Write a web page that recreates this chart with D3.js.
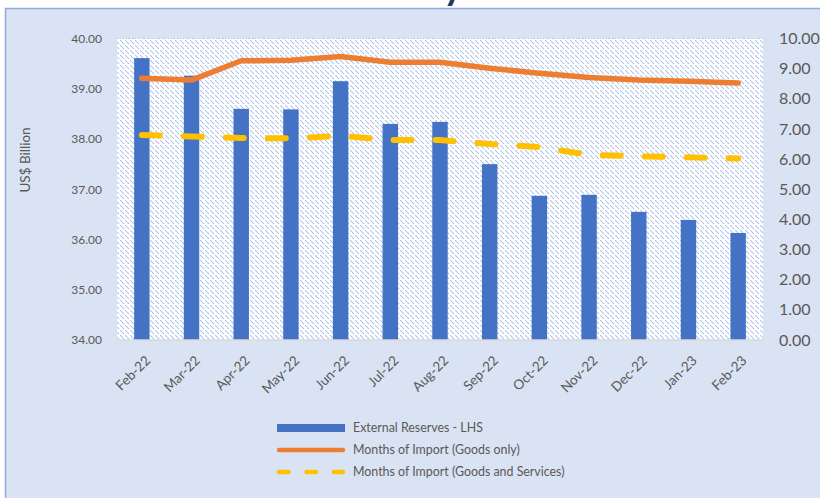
<!DOCTYPE html>
<html>
<head>
<meta charset="utf-8">
<script src="https://cdn.jsdelivr.net/npm/d3@7"></script>
<style>
  html, body { margin: 0; padding: 0; background: #ffffff; }
  svg { display: block; font-family: Lato, "Open Sans", sans-serif; }
</style>
</head>
<body>
<svg id="chart" width="820" height="498"></svg>
<script>
// Monthly external reserves (US$ billion) and import cover (months)
const months = ["Feb-22", "Mar-22", "Apr-22", "May-22", "Jun-22", "Jul-22", "Aug-22",
                "Sep-22", "Oct-22", "Nov-22", "Dec-22", "Jan-23", "Feb-23"];
const reserves = [39.61, 39.26, 38.60, 38.59, 39.15, 38.30, 38.34, 37.50, 36.87, 36.89, 36.55, 36.39, 36.13];
const importGoods = [8.68, 8.62, 9.26, 9.28, 9.40, 9.21, 9.21, 9.01, 8.85, 8.71, 8.62, 8.58, 8.52];
const importGoodsServices = [6.80, 6.75, 6.70, 6.69, 6.77, 6.63, 6.63, 6.50, 6.40, 6.14, 6.09, 6.06, 6.02];
const leftTicks = [34, 35, 36, 37, 38, 39, 40];
const rightTicks = [0, 1, 2, 3, 4, 5, 6, 7, 8, 9, 10];
const legendLabels = ["External Reserves - LHS", "Months of Import (Goods only)", "Months of Import (Goods and Services)"];

const svg = d3.select("#chart");
const W = 820, H = 498;
const plot = { left: 117, right: 763, top: 38.5, bottom: 340 };
const textColor = "#595959";
const font = "Lato, 'Open Sans', sans-serif";

// chart frame
svg.append("rect").attr("x", 0).attr("y", 0).attr("width", W).attr("height", H).attr("fill", "#ffffff");
svg.append("rect").attr("x", 5.5).attr("y", 8.5).attr("width", W + 10).attr("height", H + 10)
  .attr("fill", "#DAE3F3").attr("stroke", "#8FAADC").attr("stroke-width", 1.5);

// title (runs above the frame)
svg.append("text").attr("x", 463).attr("y", 0).attr("text-anchor", "end")
  .attr("font-size", 38).attr("font-weight", "bold").attr("fill", "#1F3864")
  .text("External Reserves Sufficiency");

// dashed downward diagonal fill of the plot area
const defs = svg.append("defs");
const tile = 10, half = 5;
const pat = defs.append("pattern").attr("id", "hatch").attr("patternUnits", "userSpaceOnUse")
  .attr("width", tile).attr("height", tile);
pat.append("rect").attr("width", tile).attr("height", tile).attr("fill", "#ffffff");
const cells = [];
for (let i = 0; i < tile; i++) {
  if (i % 5 !== 4) { cells.push([i, i]); cells.push([(i + half) % tile, i]); }
}
pat.selectAll("rect.px").data(cells).join("rect").attr("class", "px")
  .attr("x", d => d[0]).attr("y", d => d[1]).attr("width", 1.15).attr("height", 1.15)
  .attr("fill", "#ADC2E7");

svg.append("rect").attr("x", plot.left).attr("y", plot.top)
  .attr("width", plot.right - plot.left).attr("height", plot.bottom - plot.top)
  .attr("fill", "url(#hatch)");

// scales
const x = d3.scaleBand().domain(months).range([plot.left, plot.right])
  .paddingInner(0.69).paddingOuter(0.345);
const yL = d3.scaleLinear().domain([34, 40]).range([plot.bottom, plot.top]);
const yR = d3.scaleLinear().domain([0, 10]).range([plot.bottom, plot.top]);
const cx = d => x(d) + x.bandwidth() / 2;

// top gridline
svg.append("line").attr("x1", plot.left).attr("x2", plot.right)
  .attr("y1", yL(40)).attr("y2", yL(40))
  .attr("stroke", "#BFBFBF").attr("stroke-width", 1).attr("stroke-dasharray", "1,2");

// bars
svg.append("g").selectAll("rect").data(months).join("rect")
  .attr("x", d => x(d)).attr("width", x.bandwidth())
  .attr("y", (d, i) => yL(reserves[i]))
  .attr("height", (d, i) => yL(34) - yL(reserves[i]))
  .attr("fill", "#4472C4");

// category axis line
svg.append("line").attr("x1", plot.left).attr("x2", plot.right)
  .attr("y1", plot.bottom).attr("y2", plot.bottom)
  .attr("stroke", "#D9D9D9").attr("stroke-width", 1.5);

// lines
const line = vals => d3.line().x((d, i) => cx(months[i])).y(d => yR(d))(vals);
svg.append("path").attr("d", line(importGoods)).attr("fill", "none")
  .attr("stroke", "#ED7D31").attr("stroke-width", 5.5)
  .attr("stroke-linecap", "round").attr("stroke-linejoin", "round");
svg.append("path").attr("d", line(importGoodsServices)).attr("fill", "none")
  .attr("stroke", "#FFC000").attr("stroke-width", 6)
  .attr("stroke-dasharray", "18,24")
  .attr("stroke-linecap", "round").attr("stroke-linejoin", "round");

// axes
const fmt = d3.format(".2f");
const gL = svg.append("g").attr("transform", `translate(${plot.left},0)`)
  .call(d3.axisLeft(yL).tickValues(leftTicks).tickFormat(fmt).tickSize(0).tickPadding(15));
gL.select(".domain").remove();
gL.selectAll("text").attr("fill", textColor).attr("font-size", 12).attr("font-family", font);

const gR = svg.append("g").attr("transform", `translate(${plot.right},0)`)
  .call(d3.axisRight(yR).tickValues(rightTicks).tickFormat(fmt).tickSize(0).tickPadding(16));
gR.select(".domain").remove();
gR.selectAll("text").attr("fill", textColor).attr("font-size", 16).attr("font-family", font);

const gX = svg.append("g").attr("transform", `translate(0,${plot.bottom})`)
  .call(d3.axisBottom(x).tickSize(0).tickPadding(0));
gX.select(".domain").remove();
gX.selectAll("text")
  .attr("fill", textColor).attr("font-size", 13.5).attr("font-family", font)
  .attr("text-anchor", "end").attr("dy", "0.35em")
  .attr("transform", "translate(6,18) rotate(-45)")
  .attr("y", 0);

// y-axis title
svg.append("text").attr("transform", "translate(30,160) rotate(-90)")
  .attr("text-anchor", "middle").attr("fill", textColor).attr("font-size", 13.5)
  .text("US$ Billion");

// legend
const lg = svg.append("g");
const lx = 277, lw = 68, rows = [428, 450, 472];
lg.append("rect").attr("x", lx).attr("y", rows[0] - 4).attr("width", lw).attr("height", 8).attr("fill", "#4472C4");
lg.append("line").attr("x1", lx + 2).attr("x2", lx + lw - 2).attr("y1", rows[1]).attr("y2", rows[1])
  .attr("stroke", "#ED7D31").attr("stroke-width", 4.5).attr("stroke-linecap", "round");
lg.append("line").attr("x1", lx + 2).attr("x2", lx + lw - 2).attr("y1", rows[2]).attr("y2", rows[2])
  .attr("stroke", "#FFC000").attr("stroke-width", 4.5).attr("stroke-linecap", "round")
  .attr("stroke-dasharray", "9.5,18");
lg.selectAll("text").data(legendLabels).join("text")
  .attr("x", 353).attr("y", (d, i) => rows[i]).attr("dy", "0.35em")
  .attr("fill", textColor).attr("font-size", 12.4).text(d => d);
</script>
</body>
</html>
